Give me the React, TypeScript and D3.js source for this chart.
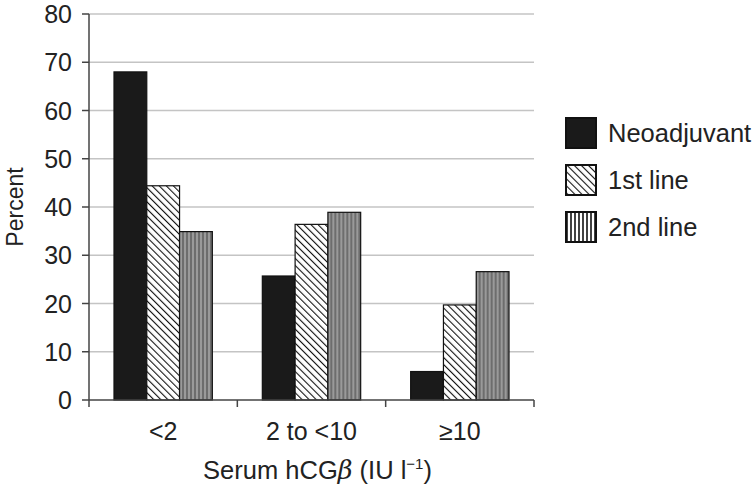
import React from 'react'
import * as d3 from 'd3'

const categories = ['<2', '2 to <10', '≥10']
const seriesNames = ['Neoadjuvant', '1st line', '2nd line']
const neoadjuvant = [68, 25.7, 5.9]
const firstLine = [44.4, 36.4, 19.7]
const secondLine = [34.9, 38.9, 26.6]
const yTicks = [0, 10, 20, 30, 40, 50, 60, 70, 80]

const W = 756
const H = 489
const left = 89
const right = 534
const top = 14
const bottom = 400
const font = '"Liberation Sans", Arial, Helvetica, sans-serif'

export default function App() {
  const values = [neoadjuvant, firstLine, secondLine]
  const fills = ['#1a1a1a', 'url(#diag)', 'url(#vert)']

  const y = d3.scaleLinear().domain([0, 80]).range([bottom, top])
  const x0 = d3.scaleBand<string>().domain(categories).range([left, right])
    .paddingInner(0.337).paddingOuter(0.1685)
  const x1 = d3.scaleBand<number>().domain([0, 1, 2]).range([0, x0.bandwidth()])
  const step = (right - left) / categories.length
  const xTicks = d3.range(categories.length + 1).map(i => left + i * step)

  return (
    <svg width={W} height={H} style={{ position: 'absolute', left: 0, top: 0 }} fontFamily={font}>
      <defs>
        <pattern id="diag" patternUnits="userSpaceOnUse" width="5" height="5" patternTransform="rotate(-45)">
          <rect width="5" height="5" fill="#fff" />
          <line x1="0" y1="0" x2="0" y2="5" stroke="#111" strokeWidth="2.2" />
        </pattern>
        <pattern id="vert" patternUnits="userSpaceOnUse" width="4" height="4">
          <rect width="4" height="4" fill="#9a9a9a" />
          <line x1="1" y1="0" x2="1" y2="4" stroke="#555" strokeWidth="1.3" />
        </pattern>
        <pattern id="vertLeg" patternUnits="userSpaceOnUse" width="4" height="4">
          <rect width="4" height="4" fill="#fff" />
          <line x1="1" y1="0" x2="1" y2="4" stroke="#111" strokeWidth="1.6" />
        </pattern>
      </defs>
      <rect width={W} height={H} fill="#fff" />

      {yTicks.filter(t => t > 0).map(t => (
        <line key={t} x1={left} x2={right} y1={y(t)} y2={y(t)} stroke="#c4c4c4" strokeWidth={1.3} />
      ))}

      {categories.map((c, ci) => (
        <g key={c} transform={`translate(${x0(c)},0)`}>
          {values.map((s, si) => (
            <rect key={si} x={x1(si)} y={y(s[ci])} width={x1.bandwidth()} height={bottom - y(s[ci])}
              fill={fills[si]} stroke="#111" strokeWidth={1.2} />
          ))}
        </g>
      ))}

      <line x1={left} x2={left} y1={top} y2={bottom} stroke="#444" strokeWidth={1.5} />
      <line x1={left} x2={right} y1={bottom} y2={bottom} stroke="#444" strokeWidth={1.5} />
      {yTicks.map(t => (
        <g key={t}>
          <line x1={left - 7} x2={left} y1={y(t)} y2={y(t)} stroke="#444" strokeWidth={1.5} />
          <text x={72} y={y(t)} dy="0.36em" textAnchor="end" fontSize={25} fill="#222">{t}</text>
        </g>
      ))}
      {xTicks.map((t, i) => (
        <line key={i} x1={t} x2={t} y1={bottom} y2={bottom + 7} stroke="#444" strokeWidth={1.5} />
      ))}
      {categories.map(c => (
        <text key={c} x={(x0(c) ?? 0) + x0.bandwidth() / 2} y={440} textAnchor="middle" fontSize={25} fill="#222">{c}</text>
      ))}

      <text x={(left + right) / 2 + 6} y={479} textAnchor="middle" fontSize={25.5} fill="#222">
        Serum hCG<tspan fontStyle="italic" fontFamily="'DejaVu Serif', serif">β</tspan> (IU l
        <tspan dy={-10} fontSize={15}>−1</tspan><tspan dy={10}>)</tspan>
      </text>
      <text transform={`translate(23,${(top + bottom) / 2}) rotate(-90)`} textAnchor="middle" fontSize={23} fill="#222">Percent</text>

      {seriesNames.map((n, i) => (
        <g key={n} transform={`translate(566,${118 + i * 47})`}>
          <rect width={30} height={30} fill={i === 2 ? 'url(#vertLeg)' : fills[i]} stroke="#111" strokeWidth={2} />
          <text x={42} y={15} dy="0.36em" fontSize={25.5} fill="#222">{n}</text>
        </g>
      ))}
    </svg>
  )
}
